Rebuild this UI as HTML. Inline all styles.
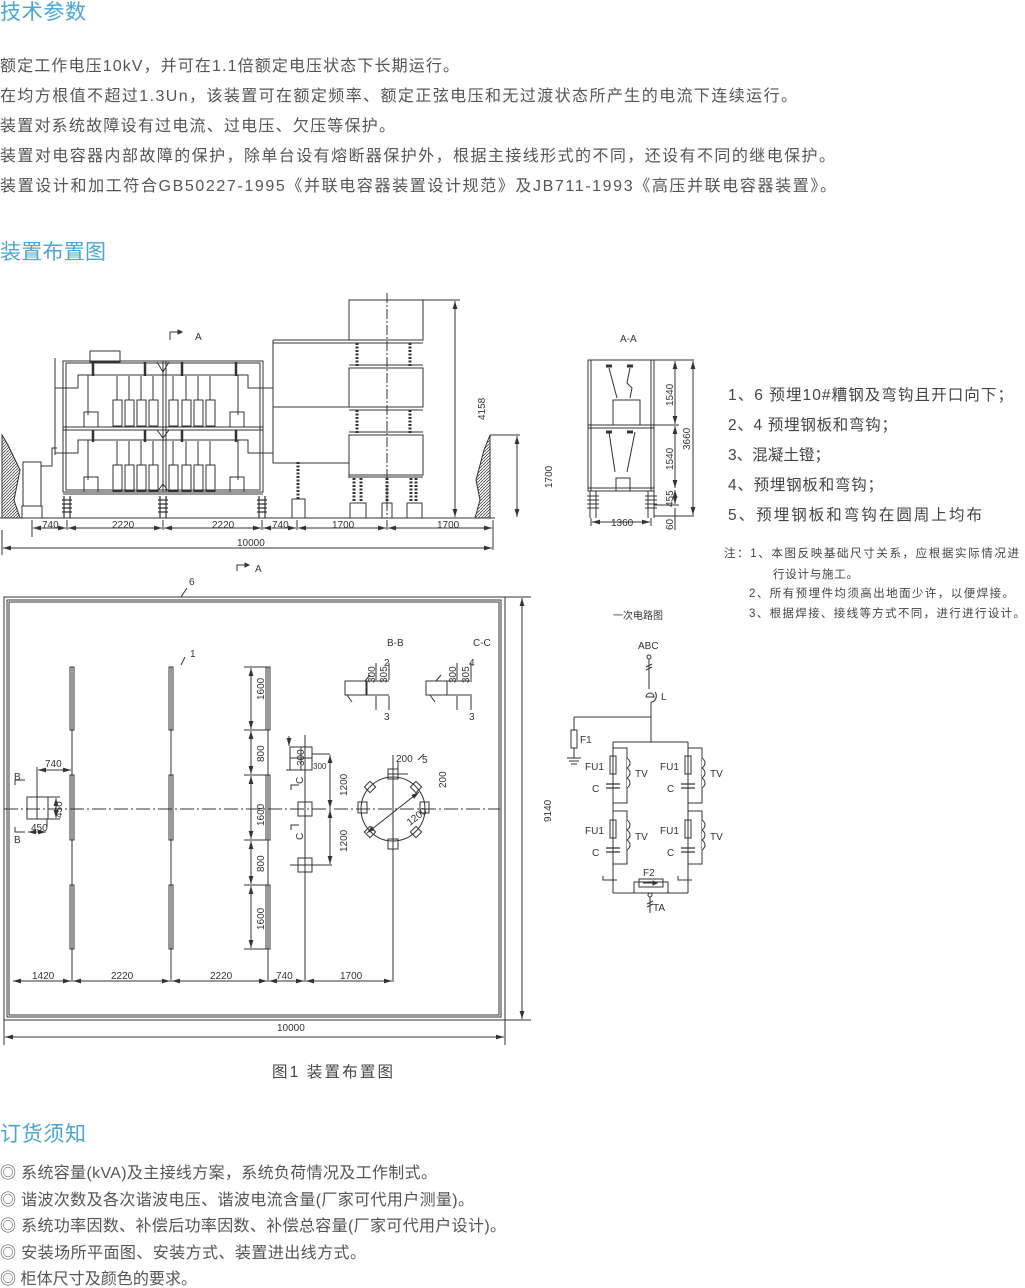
<!DOCTYPE html>
<html><head><meta charset="utf-8"><style>
html,body{margin:0;padding:0;background:#fff;}
svg{display:block;}
.h{font-family:"Liberation Sans","Noto Sans CJK SC",sans-serif;font-size:21px;fill:#4aa6d6;}
.t{font-family:"Liberation Sans","Noto Sans CJK SC",sans-serif;font-size:16px;fill:#555;}
.d{font-family:"Liberation Sans","Noto Sans CJK SC",sans-serif;font-size:10px;fill:#333;}
.n{font-family:"Liberation Sans","Noto Sans CJK SC",sans-serif;font-size:11.5px;fill:#444;}
.l{font-family:"Liberation Sans","Noto Sans CJK SC",sans-serif;font-size:15.5px;fill:#444;}
</style></head><body>
<svg width="1025" height="1288" viewBox="0 0 1025 1288" xmlns="http://www.w3.org/2000/svg">
<defs>
<marker id="a" viewBox="0 0 10 6" refX="10" refY="3" markerWidth="8" markerHeight="5" orient="auto-start-reverse"><path d="M0,0L10,3L0,6z" fill="#333"/></marker>
<pattern id="hatch" width="3" height="3" patternUnits="userSpaceOnUse"><path d="M0,3L3,0" stroke="#444" stroke-width="0.8"/></pattern>
</defs>
<text class="h" x="0" y="19" textLength="86" lengthAdjust="spacing">技术参数</text>
<text class="t" x="0" y="71" textLength="459" lengthAdjust="spacing">额定工作电压10kV，并可在1.1倍额定电压状态下长期运行。</text>
<text class="t" x="0" y="101" textLength="797" lengthAdjust="spacing">在均方根值不超过1.3Un，该装置可在额定频率、额定正弦电压和无过渡状态所产生的电流下连续运行。</text>
<text class="t" x="0" y="131" textLength="395" lengthAdjust="spacing">装置对系统故障设有过电流、过电压、欠压等保护。</text>
<text class="t" x="0" y="161" textLength="835" lengthAdjust="spacing">装置对电容器内部故障的保护，除单台设有熔断器保护外，根据主接线形式的不同，还设有不同的继电保护。</text>
<text class="t" x="0" y="191" textLength="836" lengthAdjust="spacing">装置设计和加工符合GB50227-1995《并联电容器装置设计规范》及JB711-1993《高压并联电容器装置》。</text>
<text class="h" x="0" y="259" textLength="106" lengthAdjust="spacing">装置布置图</text>

<g stroke="#333" stroke-width="1" fill="none">
<line x1="0" y1="518" x2="495" y2="518"/>
<path d="M2,435 L8,445 L20,470 L14,500 L20,518 L2,518Z" fill="url(#hatch)"/>
<path d="M490,435 L484,450 L476,480 L480,500 L475,518 L490,518Z" fill="url(#hatch)"/>
<line x1="490" y1="435" x2="520" y2="435"/>
<rect x="23" y="462" width="18" height="44"/><rect x="22" y="506" width="20" height="12"/>
<path d="M41,466 L52,466 L52,448 L57,448"/>
<rect x="63" y="361" width="200" height="131"/>
<rect x="66" y="363" width="194" height="127"/>
<line x1="63" y1="427" x2="263" y2="427"/><line x1="63" y1="430" x2="263" y2="430"/>
<line x1="163" y1="361" x2="163" y2="492"/><line x1="166" y1="361" x2="166" y2="492"/>
<rect x="90" y="351" width="30" height="11"/>
<line x1="55" y1="358" x2="55" y2="455"/>
<path d="M55,388 L78,388 L78,375 L248,375 L248,388 L273,388"/>
<path d="M55,453 L78,453 L78,440 L248,440 L248,453 L273,453"/>
<line x1="63" y1="494" x2="263" y2="494"/>
<g stroke-width="1.2">
<path d="M64,496v22M70,496v22M160,496v22M166,496v22M259,496v22M265,496v22"/>
<path d="M62,500h10M62,504h10M62,508h10M62,512h10M158,500h10M158,504h10M158,508h10M158,512h10M257,500h10M257,504h10M257,508h10M257,512h10"/>
</g>
<g>
<path d="M117,388v12M129,388v12M141,388v12M153,388v12M173,388v12M186,388v12M198,388v12M210,388v12"/>
<rect x="113" y="400" width="9" height="26"/><rect x="125" y="400" width="9" height="26"/><rect x="137" y="400" width="9" height="26"/><rect x="149" y="400" width="9" height="26"/>
<rect x="169" y="400" width="9" height="26"/><rect x="182" y="400" width="9" height="26"/><rect x="194" y="400" width="9" height="26"/><rect x="206" y="400" width="9" height="26"/>
<path d="M117,453v12M129,453v12M141,453v12M153,453v12M173,453v12M186,453v12M198,453v12M210,453v12"/>
<rect x="113" y="465" width="9" height="26"/><rect x="125" y="465" width="9" height="26"/><rect x="137" y="465" width="9" height="26"/><rect x="149" y="465" width="9" height="26"/>
<rect x="169" y="465" width="9" height="26"/><rect x="182" y="465" width="9" height="26"/><rect x="194" y="465" width="9" height="26"/><rect x="206" y="465" width="9" height="26"/>
<path d="M117,376v12M129,376v12M141,376v12M153,376v12M173,376v12M186,376v12M198,376v12M210,376v12M117,441v12M129,441v12M141,441v12M153,441v12M173,441v12M186,441v12M198,441v12M210,441v12"/>
<path d="M88,375v40M238,375v40M88,440v40M238,440v40"/>
<rect x="84" y="412" width="14" height="15"/><rect x="230" y="412" width="14" height="15"/>
<rect x="84" y="477" width="14" height="15"/><rect x="230" y="477" width="14" height="15"/>
<path d="M93,362v14M145,362v14M182,362v14M236,362v14M93,430v12M145,430v12M182,430v12M236,430v12" stroke-width="2.5"/>
<path d="M157,362l6,10l6,-10M157,430l6,8l6,-8M157,492l6,-8l6,8"/>
</g>
<path d="M170,340v-8h12"/><path d="M182,332l-4,-2v4z" fill="#333"/>
<line x1="349" y1="300" x2="426" y2="300"/><line x1="426" y1="300" x2="460" y2="300"/>
<rect x="349" y="300" width="74" height="40"/>
<rect x="349" y="368" width="74" height="39"/>
<rect x="349" y="435" width="74" height="40"/>
<path d="M273,340h150M273,343h150M349,365h74M349,410h74M273,407h76M349,432h74M349,477h74"/>
<path d="M273,340v123h76v15"/>
<path d="M357,343v25M410,343v25M357,410v25M410,410v25" stroke-width="3" stroke-dasharray="2,1.5"/>
<line x1="387" y1="293" x2="387" y2="518" stroke-dasharray="10,2,2,2"/>
<g stroke-width="3" stroke-dasharray="2,1.5"><path d="M354,478v25M361,478v25M387,478v25M411,478v25M416,478v25M298,462v37"/></g>
<path d="M350,503h16v15M350,503v15M382,503h10v15M382,503v15M407,503h15v15M407,503v15M292,499h13v19M292,499v19"/>
<line x1="455" y1="301" x2="455" y2="517" marker-start="url(#a)" marker-end="url(#a)"/>
<line x1="517" y1="436" x2="517" y2="517" marker-start="url(#a)" marker-end="url(#a)"/>
<path d="M32,520v17M67,520v10M163,520v10M262,520v10M297,520v10M387,520v10M493,520v30M2,530v25"/>
<line x1="33" y1="528" x2="66" y2="528" marker-start="url(#a)" marker-end="url(#a)"/>
<line x1="68" y1="528" x2="162" y2="528" marker-start="url(#a)" marker-end="url(#a)"/>
<line x1="164" y1="528" x2="261" y2="528" marker-start="url(#a)" marker-end="url(#a)"/>
<line x1="263" y1="528" x2="296" y2="528" marker-start="url(#a)" marker-end="url(#a)"/>
<line x1="298" y1="528" x2="386" y2="528" marker-start="url(#a)" marker-end="url(#a)"/>
<line x1="388" y1="528" x2="492" y2="528" marker-start="url(#a)" marker-end="url(#a)"/>
<line x1="3" y1="548" x2="492" y2="548" marker-start="url(#a)" marker-end="url(#a)"/>
</g>
<g class="d">
<text x="195" y="340">A</text>
<text x="42" y="528">740</text><text x="112" y="528">2220</text><text x="212" y="528">2220</text><text x="272" y="528">740</text><text x="332" y="528">1700</text><text x="437" y="528">1700</text>
<text x="237" y="546">10000</text>
<text transform="translate(485,420) rotate(-90)">4158</text>
<text transform="translate(552,488) rotate(-90)">1700</text>
</g>

<g stroke="#333" stroke-width="1" fill="none">
<rect x="588" y="360" width="66" height="131"/>
<path d="M591,360v131M651,360v131M588,425h66M588,428h66M588,488h66M654,360h40M654,425h25M654,505h25M654,516h40"/>
<rect x="613" y="400" width="27" height="25"/>
<rect x="616" y="478" width="14" height="13"/>
<path d="M609,368l8,30M630,368l-3,15l5,5l-2,10M609,432l6,40M635,432l-8,40"/>
<path d="M606,366h6M627,366h6M606,432h6M627,432h6" stroke-width="3"/>
<path d="M590,491v27M596,491v27M648,491v27M654,491v27"/>
<path d="M587,496h12M587,500h12M587,504h12M587,508h12M645,496h12M645,500h12M645,504h12M645,508h12"/>
<line x1="675" y1="361" x2="675" y2="424" marker-start="url(#a)" marker-end="url(#a)"/>
<line x1="675" y1="426" x2="675" y2="488" marker-start="url(#a)" marker-end="url(#a)"/>
<line x1="675" y1="490" x2="675" y2="504" marker-start="url(#a)" marker-end="url(#a)"/>
<line x1="675" y1="508" x2="675" y2="530" />
<line x1="693" y1="361" x2="693" y2="515" marker-start="url(#a)" marker-end="url(#a)"/>
<line x1="592" y1="522" x2="650" y2="522" marker-start="url(#a)" marker-end="url(#a)"/>
<path d="M591,518v8M651,518v8"/>
</g>
<g class="d">
<text x="620" y="342">A-A</text>
<text x="611" y="526">1360</text>
<text transform="translate(673,406) rotate(-90)">1540</text>
<text transform="translate(673,470) rotate(-90)">1540</text>
<text transform="translate(673,507) rotate(-90)">455</text>
<text transform="translate(673,530) rotate(-90)">60</text>
<text transform="translate(690,450) rotate(-90)">3660</text>
</g>
<g class="l">
<text x="728" y="400" textLength="285" lengthAdjust="spacing">1、6 预埋10#糟钢及弯钩且开口向下；</text>
<text x="728" y="430" textLength="169" lengthAdjust="spacing">2、4 预埋钢板和弯钩；</text>
<text x="728" y="460" textLength="102" lengthAdjust="spacing">3、混凝土镫；</text>
<text x="728" y="490" textLength="155" lengthAdjust="spacing">4、预埋钢板和弯钩；</text>
<text x="728" y="520" textLength="254" lengthAdjust="spacing">5、预埋钢板和弯钩在圆周上均布</text>
</g>
<g class="n">
<text x="724" y="557" textLength="295" lengthAdjust="spacing">注：1、本图反映基础尺寸关系，应根据实际情况进</text>
<text x="773" y="578" textLength="85" lengthAdjust="spacing">行设计与施工。</text>
<text x="749" y="597" textLength="265" lengthAdjust="spacing">2、所有预埋件均须高出地面少许，以便焊接。</text>
<text x="749" y="617" textLength="276" lengthAdjust="spacing">3、根据焊接、接线等方式不同，进行进行设计。</text>
</g>

<g stroke="#333" stroke-width="1" fill="none">
<path d="M237,571v-6h12"/><path d="M249,565l-4,-2v4z" fill="#333"/>
<rect x="4" y="597" width="501" height="423"/>
<rect x="7" y="600" width="494" height="417"/>
<rect x="9" y="602" width="490" height="413"/>
<line x1="4" y1="809" x2="500" y2="809" stroke-dasharray="14,3,2,3"/>
<path d="M72,667v315M171,667v315M268,667v315M305,735v247M393,755v227"/>
<rect x="70" y="667" width="4" height="63"/><rect x="70" y="775" width="4" height="65"/><rect x="70" y="885" width="4" height="64"/>
<rect x="169" y="667" width="4" height="63"/><rect x="169" y="775" width="4" height="65"/><rect x="169" y="885" width="4" height="64"/>
<rect x="266" y="667" width="4" height="63"/><rect x="266" y="775" width="4" height="65"/><rect x="266" y="885" width="4" height="64"/>
<path d="M244,667h22M244,730h22M244,775h22M244,840h22M244,885h22M244,949h22"/>
<line x1="251" y1="668" x2="251" y2="729" marker-start="url(#a)" marker-end="url(#a)"/>
<line x1="251" y1="731" x2="251" y2="774" marker-start="url(#a)" marker-end="url(#a)"/>
<line x1="251" y1="776" x2="251" y2="839" marker-start="url(#a)" marker-end="url(#a)"/>
<line x1="251" y1="841" x2="251" y2="884" marker-start="url(#a)" marker-end="url(#a)"/>
<line x1="251" y1="886" x2="251" y2="948" marker-start="url(#a)" marker-end="url(#a)"/>
<path d="M181,665l4,-8"/>
<rect x="27" y="797" width="21" height="22"/><path d="M37,797v22M37,767v30M48,797h12M48,819h12M47,819v8"/>
<line x1="38" y1="770" x2="71" y2="770" marker-start="url(#a)" marker-end="url(#a)"/>
<line x1="56" y1="798" x2="56" y2="818" marker-start="url(#a)" marker-end="url(#a)"/>
<line x1="28" y1="832" x2="46" y2="832" marker-start="url(#a)" marker-end="url(#a)"/>
<path d="M15,785v-5h10M15,827v5h10"/>
<rect x="290" y="747" width="22" height="23"/><path d="M301,747v23M290,758h22M312,754h18M296,770h-10"/>
<rect x="298" y="802" width="14" height="14"/><rect x="298" y="858" width="14" height="14"/>
<path d="M290,865h42"/>
<line x1="330" y1="755" x2="330" y2="808" marker-start="url(#a)" marker-end="url(#a)"/>
<line x1="330" y1="810" x2="330" y2="864" marker-start="url(#a)" marker-end="url(#a)"/>
<line x1="289" y1="736" x2="289" y2="746" marker-end="url(#a)"/>
<path d="M291,790v-5h8M291,830v-5h8"/>
<circle cx="393" cy="809" r="32"/>
<rect x="358" y="802" width="9" height="11"/><rect x="420" y="802" width="9" height="11"/>
<rect x="388" y="769" width="10" height="10"/><rect x="388" y="839" width="10" height="10"/>
<rect x="366" y="783" width="8" height="8" transform="rotate(45 370 787)"/>
<rect x="412" y="783" width="8" height="8" transform="rotate(45 416 787)"/>
<rect x="366" y="828" width="8" height="8" transform="rotate(45 370 832)"/>
<rect x="412" y="828" width="8" height="8" transform="rotate(45 416 832)"/>
<path d="M388,774h20M398,762v12M418,760l6,-6"/>
<line x1="367" y1="833" x2="419" y2="792" marker-start="url(#a)" marker-end="url(#a)"/>
<rect x="345" y="681" width="22" height="14"/><path d="M366,681v14M367,681h22M367,695h22M376,663v17M389,663v17M376,710v-14M389,710v-14M365,681l5,-6M347,695l5,7"/>
<rect x="426" y="681" width="21" height="14"/><path d="M447,681v14M447,681h25M447,695h25M457,663v17M471,663v17M457,710v-14M471,710v-14M436,681l5,-6M430,695l5,7"/>
<line x1="13" y1="981" x2="71" y2="981" marker-start="url(#a)" marker-end="url(#a)"/>
<line x1="73" y1="981" x2="170" y2="981" marker-start="url(#a)" marker-end="url(#a)"/>
<line x1="172" y1="981" x2="267" y2="981" marker-start="url(#a)" marker-end="url(#a)"/>
<line x1="269" y1="981" x2="304" y2="981" marker-start="url(#a)" marker-end="url(#a)"/>
<line x1="306" y1="981" x2="392" y2="981" marker-start="url(#a)" marker-end="url(#a)"/>
<line x1="5" y1="1037" x2="504" y2="1037" marker-start="url(#a)" marker-end="url(#a)"/>
<path d="M4,1020v25M505,1020v25M505,597h26M505,1020h26"/>
<line x1="522" y1="598" x2="522" y2="1019" marker-start="url(#a)" marker-end="url(#a)"/>
<path d="M181,597l6,-9"/>
</g>
<g class="d">
<text x="189" y="585">6</text><text x="255" y="572">A</text>
<text x="190" y="657">1</text>
<text x="45" y="767">740</text><text x="31" y="831">450</text>
<text transform="translate(62,818) rotate(-90)">450</text>
<text x="14" y="780">B</text><text x="14" y="843">B</text>
<text transform="translate(264,700) rotate(-90)">1600</text>
<text transform="translate(264,762) rotate(-90)">800</text>
<text transform="translate(264,826) rotate(-90)">1600</text>
<text transform="translate(264,872) rotate(-90)">800</text>
<text transform="translate(264,930) rotate(-90)">1600</text>
<text transform="translate(304,766) rotate(-90)">300</text>
<text x="313" y="769" font-size="8">300</text>
<text transform="translate(303,784) rotate(-90)">C</text>
<text transform="translate(303,840) rotate(-90)">C</text>
<text transform="translate(347,796) rotate(-90)">1200</text>
<text transform="translate(347,852) rotate(-90)">1200</text>
<text x="396" y="762">200</text><text x="422" y="763">5</text>
<text transform="translate(446,788) rotate(-90)">200</text>
<text transform="translate(410,826) rotate(-38)">1200</text>
<text x="387" y="646">B-B</text><text x="473" y="646">C-C</text>
<text x="384" y="666">2</text><text x="384" y="720">3</text>
<text x="469" y="666">4</text><text x="469" y="720">3</text>
<text transform="translate(375,683) rotate(-90)">300</text>
<text transform="translate(387,683) rotate(-90)">305</text>
<text transform="translate(456,683) rotate(-90)">300</text>
<text transform="translate(469,683) rotate(-90)">305</text>
<text x="32" y="979">1420</text><text x="111" y="979">2220</text><text x="210" y="979">2220</text><text x="276" y="979">740</text><text x="340" y="979">1700</text>
<text x="277" y="1031">10000</text>
<text transform="translate(551,822) rotate(-90)">9140</text>
</g>

<g stroke="#333" stroke-width="1" fill="none">
<circle cx="649" cy="657" r="2"/>
<path d="M649,659v30M646,667l6,-3M646,670l6,-3"/>
<path d="M646,697a4,4 0 0 1 8,0z"/><path d="M655,692a5,6 0 0 1 -4,10"/>
<path d="M651,702v40M574,717h77M574,717v13"/>
<rect x="571" y="730" width="6" height="18"/><path d="M574,748v10M567,758h14M569,761h10M571,764h6"/>
<path d="M613,742h75M613,742v151M688,742v151M613,893h75"/>
<g>
<rect x="610" y="756" width="6" height="18"/><rect x="685" y="756" width="6" height="18"/>
<rect x="610" y="820" width="6" height="18"/><rect x="685" y="820" width="6" height="18"/>
<path d="M606,784h14M606,788h14M681,784h14M681,788h14M606,848h14M606,852h14M681,848h14M681,852h14" stroke-width="1.2"/>
<path d="M613,748h14v55h-14M688,748h14v55h-14M613,811h14v53h-14M688,811h14v53h-14"/>
<path d="M627,758c4,3 4,7 0,10c4,3 4,7 0,10c4,3 4,7 0,10M702,758c4,3 4,7 0,10c4,3 4,7 0,10c4,3 4,7 0,10M627,820c4,3 4,7 0,10c4,3 4,7 0,10c4,3 4,7 0,10M702,820c4,3 4,7 0,10c4,3 4,7 0,10c4,3 4,7 0,10" fill="#fff"/>
</g>
<path d="M603,876v4h14M678,876v4h14"/>
<path d="M634,893v-11h34v11"/><rect x="639" y="879" width="24" height="8"/>
<path d="M643,883h14"/><path d="M657,883l-4,-2v4z" fill="#333"/>
<circle cx="650" cy="895" r="2"/><path d="M650,897v16M647,904l6,-3M647,907l6,-3"/>
</g>
<g class="d">
<text x="613" y="619">一次电路图</text>
<text x="638" y="649">ABC</text><text x="661" y="700">L</text><text x="580" y="743">F1</text>
<text x="585" y="770">FU1</text><text x="660" y="770">FU1</text><text x="585" y="834">FU1</text><text x="660" y="834">FU1</text>
<text x="635" y="777">TV</text><text x="710" y="777">TV</text><text x="635" y="840">TV</text><text x="710" y="840">TV</text>
<text x="592" y="792">C</text><text x="667" y="792">C</text><text x="592" y="856">C</text><text x="667" y="856">C</text>
<text x="643" y="876">F2</text><text x="653" y="911">TA</text>
</g>

<text class="l" x="272" y="1077" textLength="121" lengthAdjust="spacing">图1 装置布置图</text>
<text class="h" x="0" y="1141" textLength="86" lengthAdjust="spacing">订货须知</text>
<g class="t">
<text x="0" y="1178" textLength="437" lengthAdjust="spacing">◎ 系统容量(kVA)及主接线方案，系统负荷情况及工作制式。</text>
<text x="0" y="1205" textLength="474" lengthAdjust="spacing">◎ 谐波次数及各次谐波电压、谐波电流含量(厂家可代用户测量)。</text>
<text x="0" y="1231" textLength="506" lengthAdjust="spacing">◎ 系统功率因数、补偿后功率因数、补偿总容量(厂家可代用户设计)。</text>
<text x="0" y="1258" textLength="366" lengthAdjust="spacing">◎ 安装场所平面图、安装方式、装置进出线方式。</text>
<text x="0" y="1284" textLength="197" lengthAdjust="spacing">◎ 柜体尺寸及颜色的要求。</text>
</g>
</svg>
</body></html>
